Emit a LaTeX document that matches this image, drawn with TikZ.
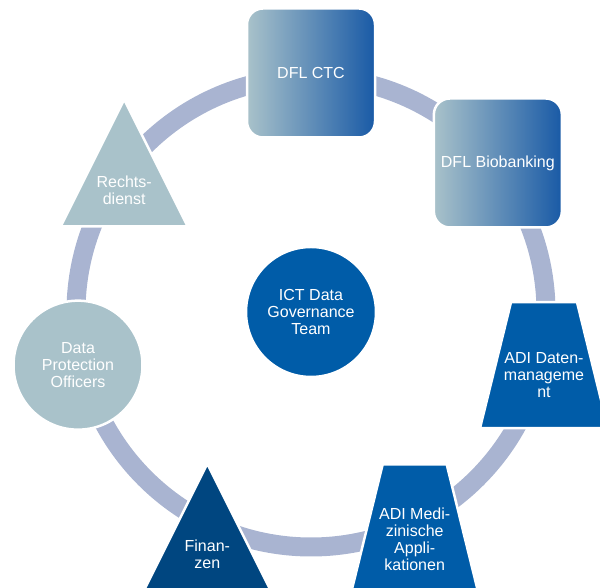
\documentclass[tikz,border=0pt]{standalone}
\usepackage{fontspec}
\setmainfont{Liberation Sans}
\usepackage{tikz}
\usetikzlibrary{calc}

\definecolor{ringgrey}{RGB}{169,180,209}
\definecolor{paleblue}{RGB}{169,194,202}
\definecolor{deepfade}{RGB}{25,90,166}
\definecolor{teamblue}{RGB}{0,92,168}
\definecolor{navyblue}{RGB}{0,70,128}

\tikzset{
  ringline/.style={draw=ringgrey, line width=19},
  outlined/.style={draw=white, line width=2.5},
  fadebox/.style={outlined, left color=paleblue, middle color=paleblue!72!deepfade, right color=deepfade, rounded corners=16, minimum width=128, minimum height=129, inner sep=0},
  disc/.style={outlined, circle, minimum size=130, inner sep=0},
  caption/.style={text=white, align=center, font=\fontsize{16}{17}\selectfont}
}

\begin{document}
\begin{tikzpicture}[x=1pt,y=1pt]
\clip (0,0) rectangle (600,588);
\coordinate (hub) at (311,276);
% places round the ring
\foreach \k/\nm in {0/ctcpos,1/biopos,2/datpos,3/medpos,4/finpos,5/dpopos,6/rdpos}
  \coordinate (\nm) at ($(hub)+({90-\k*360/7}:239)$);

\draw[ringline] (hub) circle[radius=235];

\node[disc, fill=teamblue] (ict) at (hub) {};
\node[caption] (ictlabel) at (ict) {ICT Data\\Governance\\Team};

\node[fadebox] (ctc) at (ctcpos) {};
\node[caption] (ctclabel) at (ctc) {DFL CTC};
\node[fadebox] (bio) at (biopos) {};
\node[caption] (biolabel) at (bio) {DFL Biobanking};

% trapezoids
\path[outlined, fill=teamblue] ($(datpos)+(-33,63)$) -- ($(datpos)+(33,63)$) -- ($(datpos)+(64,-63)$) -- ($(datpos)+(-64,-63)$) -- cycle;
\node[caption] (dat) at ($(datpos)+(0,-10)$) {ADI Daten-\\manageme\\nt};
\path[outlined, fill=teamblue] ($(medpos)+(-32,63)$) -- ($(medpos)+(32,63)$) -- ($(medpos)+(63,-63)$) -- ($(medpos)+(-63,-63)$) -- cycle;
\node[caption] (med) at ($(medpos)+(0,-12)$) {ADI Medi-\\zinische\\Appli-\\kationen};

% triangles
\path[outlined, fill=navyblue] ($(finpos)+(0,63.5)$) -- ($(finpos)+(63.5,-63.5)$) -- ($(finpos)+(-63.5,-63.5)$) -- cycle;
\node[caption] (fin) at ($(finpos)+(0,-27)$) {Finan-\\zen};
\path[outlined, fill=paleblue] ($(rdpos)+(0,63.5)$) -- ($(rdpos)+(63.5,-63.5)$) -- ($(rdpos)+(-63.5,-63.5)$) -- cycle;
\node[caption] (recht) at ($(rdpos)+(0,-27)$) {Rechts-\\dienst};

\node[disc, fill=paleblue, minimum size=129] (dpo) at (dpopos) {};
\node[caption] (dpolabel) at (dpo) {Data\\Protection\\Officers};
\end{tikzpicture}
\end{document}
